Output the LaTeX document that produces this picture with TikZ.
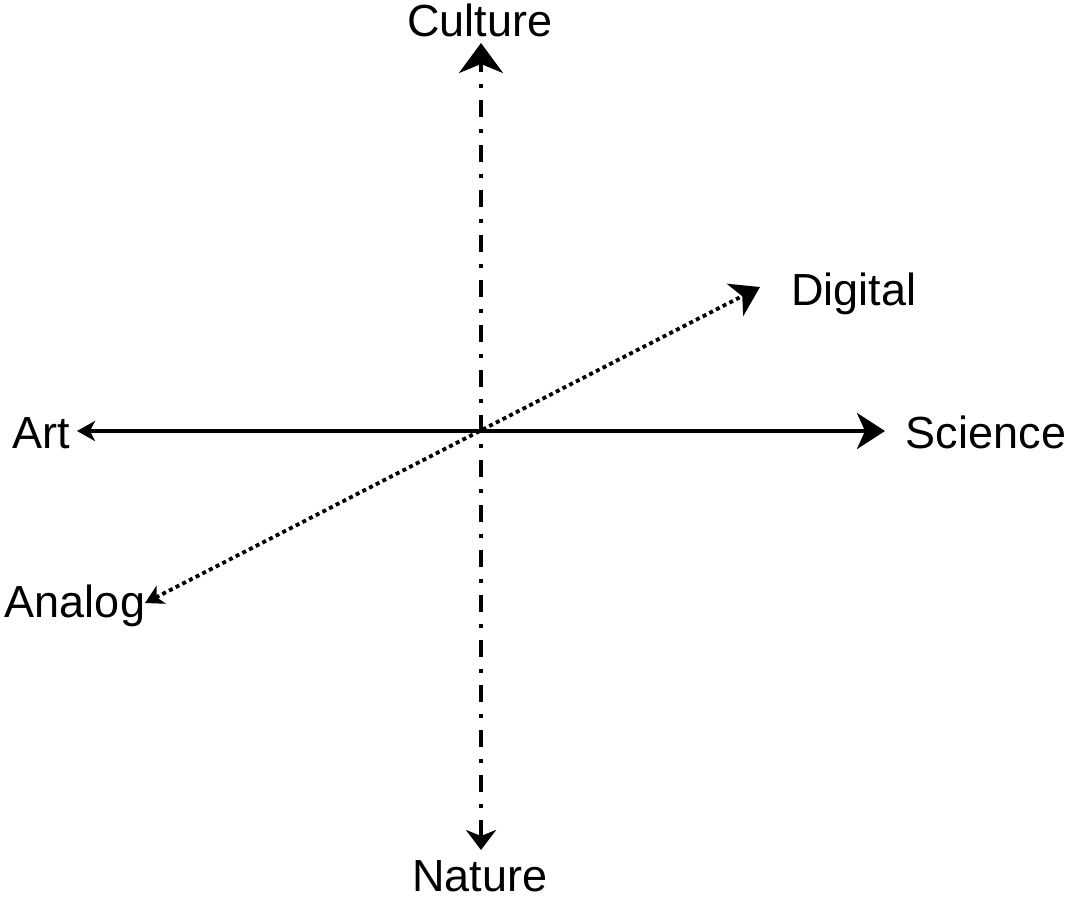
\documentclass[tikz,border=0pt]{standalone}
\usepackage{fontspec}
\setmainfont{Liberation Sans}
\usetikzlibrary{arrows.meta}
\tikzset{
  bigtip/.tip={Stealth[length=28pt,width=36pt,inset=8pt]},
  smalltip/.tip={Stealth[length=18pt,width=20pt,inset=5pt]},
  uptip/.tip={Stealth[length=30pt,width=44pt,inset=9pt]},
  downtip/.tip={Stealth[length=20pt,width=30pt,inset=6pt]}}
\begin{document}
\begin{tikzpicture}[x=1pt,y=-1pt,
  lbl/.style={anchor=base,inner sep=0pt,font=\fontsize{45}{54}\selectfont},
  axis/.style={line width=3.8pt},
  dashdot/.style={dash pattern=on 17pt off 12pt on 4pt off 12pt},
  dots/.style={dash pattern=on 4pt off 3.5pt}]
\useasboundingbox (0,0) rectangle (1067,900);
\node[lbl] (culture) at (480,36) {Culture};
\node[lbl] (nature) at (480,891) {Nature};
\node[lbl] (art) at (41,448) {Art};
\node[lbl] (science) at (986,448) {Science};
\node[lbl] (digital) at (854,305) {Digital};
\node[lbl] (analog) at (75,617) {Analog};
\coordinate (ctip) at (481,43);
\coordinate (ntip) at (481,850);
\coordinate (atip) at (77,431);
\coordinate (stip) at (885,431);
\coordinate (dtip) at (760,287);
\coordinate (antip) at (145,603);
\draw[axis,dashdot,downtip-uptip] (ntip) -- (ctip);
\draw[axis,smalltip-bigtip] (atip) -- (stip);
\draw[axis,dots,smalltip-bigtip] (antip) -- (dtip);
\end{tikzpicture}
\end{document}
